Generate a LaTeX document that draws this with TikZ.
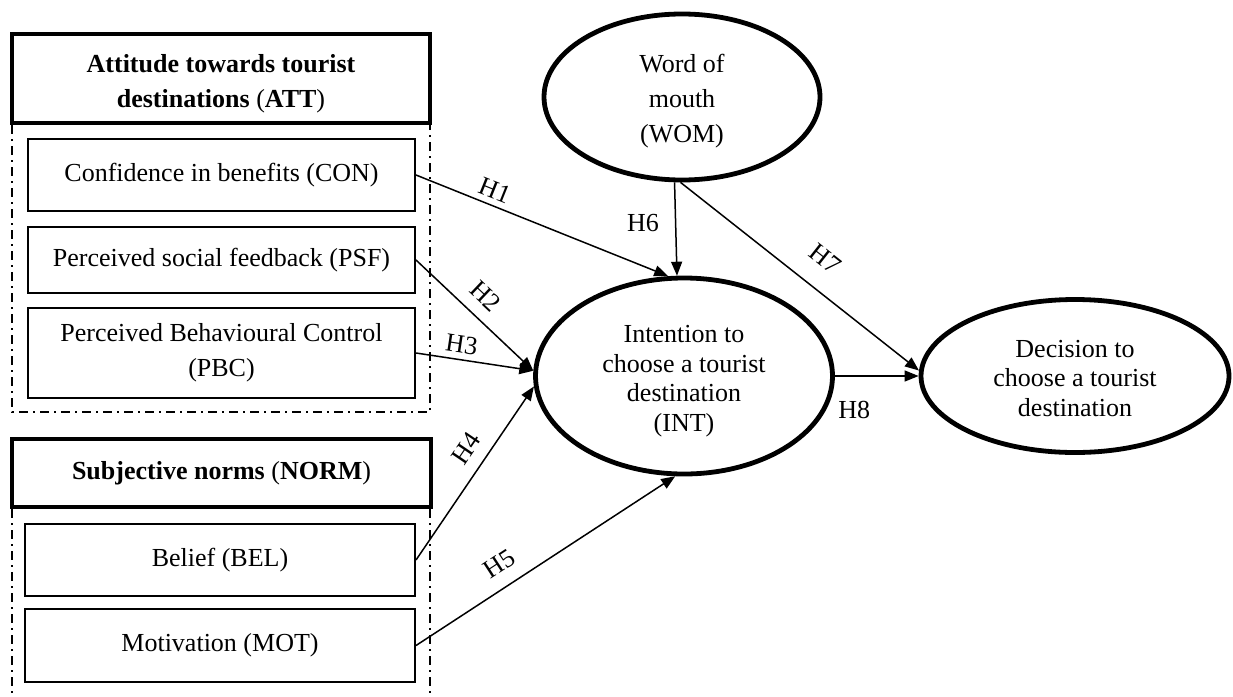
\documentclass[tikz,border=0pt]{standalone}
\usepackage{fontspec}
\setmainfont{Liberation Serif}
\usetikzlibrary{shapes.geometric,arrows.meta}
\newcommand\lowerby[2]{\raisebox{-#1}[\height][\depth]{\begin{tabular}{@{}c@{}}#2\end{tabular}}}
\begin{document}
\begin{tikzpicture}[x=1pt,y=-1pt,
  txt/.style={font=\fontsize{26}{35}\selectfont, align=center},
  hdr/.style={draw, line width=4pt, inner sep=0pt, txt},
  sub/.style={draw, line width=2pt, inner sep=0pt, minimum width=387pt, txt},
  lat/.style={draw, ellipse, line width=4.8pt, inner sep=0pt, align=center, font=\fontsize{26}{29.5}\selectfont},
  grp/.style={line width=2pt, dash pattern=on 9pt off 5pt on 2pt off 5pt},
  arr/.style={line width=1.5pt, -{Triangle[length=14pt,width=11pt]}},
  hl/.style={font=\fontsize{26}{29}\selectfont, inner sep=2pt}]

\useasboundingbox (0,0) rectangle (1233,696);

% group frames (dash-dot)
\draw[grp] (12,125) -- (12,412) -- (430,412) -- (430,125);
\draw[grp] (12,509) -- (12,696);
\draw[grp] (430,509) -- (430,696);

% boxes
\node[hdr, minimum width=418pt, minimum height=89pt] (atth) at (221,78.5)
  {\lowerby{4pt}{\textbf{Attitude towards tourist}\\\textbf{destinations} (\textbf{ATT})}};
\node[sub, minimum height=72pt] (con) at (221.5,175) {Confidence in benefits (CON)};
\node[sub, minimum height=66pt] (psf) at (221.5,260) {Perceived social feedback (PSF)};
\node[sub, minimum height=90pt] (pbc) at (221.5,353) {Perceived Behavioural Control\\(PBC)};
\node[hdr, minimum width=419pt, minimum height=68pt] (normh) at (221.5,473)
  {\textbf{Subjective norms} (\textbf{NORM})};
\node[sub, minimum width=390pt, minimum height=72pt] (bel) at (220,560) {Belief (BEL)};
\node[sub, minimum width=390pt, minimum height=73pt] (mot) at (220,645.5) {Motivation (MOT)};

% latent variables
\node[lat, font=\fontsize{26}{35}\selectfont, minimum width=276pt, minimum height=166pt] (wom) at (682,97)
  {\lowerby{3pt}{Word of\\mouth\\(WOM)}};
\node[lat, minimum width=297pt, minimum height=196pt] (int) at (684,376)
  {\lowerby{5pt}{Intention to\\choose a tourist\\destination\\(INT)}};
\node[lat, minimum width=308pt, minimum height=153pt] (dec) at (1075,376)
  {\lowerby{5pt}{Decision to\\choose a tourist\\destination}};

% paths
\draw[arr] (con.east) -- (int.99) node[hl, sloped, above=4pt, pos=0.29] {H1};
\draw[arr] (psf.east) -- (int.178) node[hl, sloped, above=10pt, pos=0.47] {H2};
\draw[arr] (pbc.east) -- (int.178) node[hl, sloped, above=4pt, pos=0.37] {H3};
\draw[arr] (bel.east) -- (int.184) node[hl, sloped, above=10pt, pos=0.575] {H4};
\draw[arr] (mot.east) -- (int.265) node[hl, sloped, above=11pt, pos=0.37] {H5};
\draw[arr] (wom.265) -- (int.94) node[hl, left=14pt, pos=0.44] {H6};
\draw[arr] (wom.269) -- (dec.178) node[hl, sloped, above=18pt, pos=0.53] {H7};
\draw[arr] (int.east) -- (dec.west) node[hl, below=22pt, pos=0.23] {H8};
\end{tikzpicture}
\end{document}
